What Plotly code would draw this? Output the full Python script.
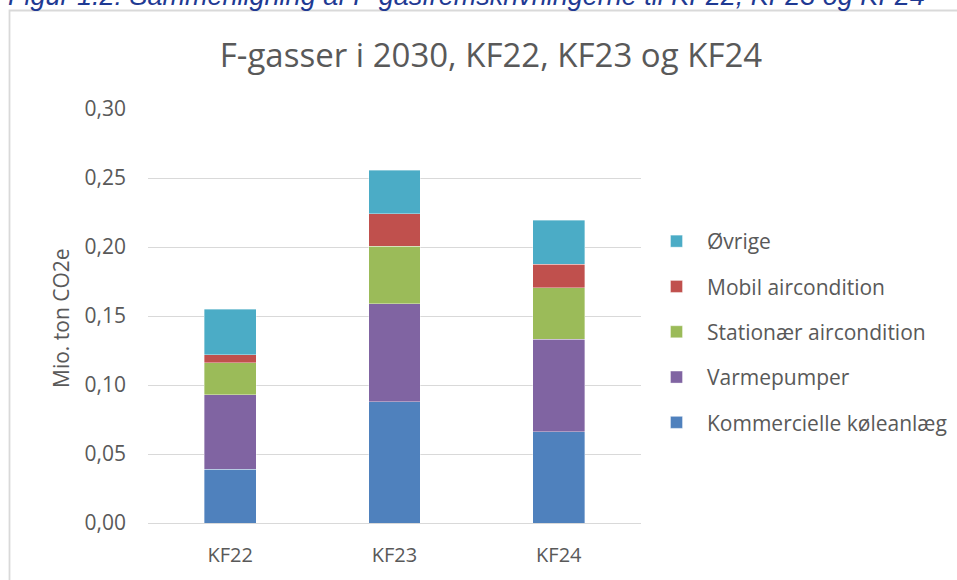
import plotly.graph_objects as go

years = ["KF22", "KF23", "KF24"]
kommercielle = [0.039, 0.088, 0.066]
varmepumper = [0.054, 0.071, 0.067]
stationaer = [0.023, 0.0415, 0.0375]
mobil = [0.006, 0.0237, 0.017]
ovrige = [0.033, 0.0314, 0.032]

series = [
    ("Kommercielle køleanlæg", kommercielle, "#4F81BD"),
    ("Varmepumper", varmepumper, "#8064A2"),
    ("Stationær aircondition", stationaer, "#9BBB59"),
    ("Mobil aircondition", mobil, "#C0504D"),
    ("Øvrige", ovrige, "#4BACC6"),
]

W, H = 957, 580
L, R, T, B = 148, 316, 109, 57
PW, PH = W - L - R, H - T - B


def px(x):
    return (x - L) / PW


def py(y):
    return (H - B - y) / PH


GRAY = "#595959"
FONT = "Open Sans, Arial, sans-serif"

fig = go.Figure()
for i, (name, vals, color) in enumerate(series):
    fig.add_trace(
        go.Bar(
            name=name,
            x=years,
            y=vals,
            marker_color=color,
            marker_line=dict(color="rgba(255,255,255,0.6)", width=0.6),
            legendgroup=name,
            legendrank=len(series) - i,
        )
    )

fig.update_layout(
    width=W,
    height=H,
    barmode="stack",
    bargap=0.684,
    separators=",.",
    plot_bgcolor="white",
    paper_bgcolor="white",
    font=dict(family=FONT, color=GRAY),
    margin=dict(l=L, r=R, t=T, b=B, autoexpand=False),
    title=dict(
        text="F-gasser i 2030, KF22, KF23 og KF24",
        x=491 / W,
        xanchor="center",
        y=1 - 55 / H,
        yanchor="middle",
        font=dict(size=33, color=GRAY, family=FONT),
    ),
    xaxis=dict(
        showgrid=False,
        showline=False,
        ticks="",
        ticklabelstandoff=18,
        tickfont=dict(size=20, color=GRAY),
    ),
    yaxis=dict(
        range=[0, 0.30],
        dtick=0.05,
        tickformat=".2f",
        showgrid=True,
        gridcolor="#d9d9d9",
        gridwidth=1,
        zeroline=True,
        zerolinecolor="#d9d9d9",
        zerolinewidth=1,
        ticks="",
        ticklabelstandoff=21,
        tickfont=dict(size=21, color=GRAY),
    ),
    legend=dict(
        traceorder="grouped",
        tracegroupgap=15,
        x=px(646),
        xanchor="left",
        y=py(221),
        yanchor="top",
        font=dict(size=21, color=GRAY),
        bgcolor="rgba(0,0,0,0)",
        itemwidth=51,
    ),
    shapes=[
        dict(
            type="rect",
            xref="paper",
            yref="paper",
            x0=px(9.5),
            x1=px(990),
            y0=py(620),
            y1=py(10.5),
            line=dict(color="#d9d9d9", width=1.8),
            fillcolor="rgba(0,0,0,0)",
            layer="below",
        )
    ],
    annotations=[
        dict(
            text="Mio. ton CO2e",
            xref="paper",
            yref="paper",
            x=px(61),
            y=py(318),
            xanchor="center",
            yanchor="middle",
            textangle=-90,
            showarrow=False,
            font=dict(size=21, color=GRAY, family=FONT),
        ),
        dict(
            text="<i>Figur 1.2: Sammenligning af F-gasfremskrivningerne til KF22, KF23 og KF24</i>",
            xref="paper",
            yref="paper",
            x=px(6),
            y=py(13),
            xanchor="left",
            yanchor="bottom",
            showarrow=False,
            font=dict(size=27, color="#1F3A93", family="Liberation Sans, Arial, sans-serif"),
        ),
    ],
)

fig.write_html(
    "out.html",
    config={"displayModeBar": False},
    post_script="document.body.style.margin='0';",
)
